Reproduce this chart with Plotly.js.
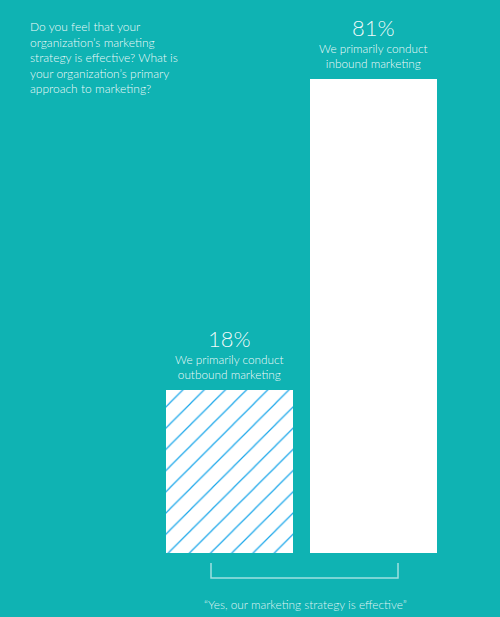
<!DOCTYPE html>
<html>
<head>
<meta charset="utf-8">
<script src="https://cdn.plot.ly/plotly-3.0.1.min.js"></script>
<style>
  html, body { margin: 0; padding: 0; background: #0fb3b3; }
  #chart { width: 500px; height: 617px; }
</style>
</head>
<body>
<div id="chart"></div>
<script>
/* ── Data ──────────────────────────────────────────────────────────────── */
const categories = ['Outbound', 'Inbound'];
const percents = [18, 81];
const approachLabels = [
  'We primarily conduct<br>outbound marketing',
  'We primarily conduct<br>inbound marketing',
];
const questionLines = [
  'Do you feel that your',
  'organization\u2019s marketing',
  'strategy is effective? What is',
  'your organization\u2019s primary',
  'approach to marketing?',
];
const footnoteText = '\u201CYes, our marketing strategy is effective\u201D';

/* ── Style ─────────────────────────────────────────────────────────────── */
const BG = '#0fb3b3';
const TEXT = 'rgba(255,255,255,0.95)';
const FONT = 'Lato, "Open Sans", sans-serif';
const BAR_FLOOR = -15; // bars sit below the zero line in the original artwork

const chartEl = document.getElementById('chart');

const traces = [{
  type: 'bar',
  x: categories,
  y: percents.map(v => v - BAR_FLOOR),
  base: BAR_FLOOR,
  width: 0.882,
  marker: {
    color: '#ffffff',
    line: { width: 0 },
    pattern: {
      shape: ['/', ''],
      bgcolor: '#ffffff',
      fgcolor: '#1aa7ea',
      fgopacity: 1,
      size: 15,
      solidity: 0.08,
      fillmode: 'overlay',
    },
  },
  hoverinfo: 'skip',
  showlegend: false,
}];

// Percent + label annotations above each bar
const annotations = [];
categories.forEach((c, i) => {
  annotations.push({
    x: c, y: percents[i], xref: 'x', yref: 'y',
    yanchor: 'bottom', yshift: 36,
    text: percents[i] + '%',
    showarrow: false,
    font: { family: FONT, size: 22, color: TEXT, weight: 300 },
  });
  annotations.push({
    x: c, y: percents[i], xref: 'x', yref: 'y',
    yanchor: 'bottom', yshift: 6,
    text: approachLabels[i],
    showarrow: false,
    font: { family: FONT, size: 11.8, color: TEXT, weight: 300 },
  });
});

// Question block, top-left
annotations.push({
  xref: 'paper', yref: 'paper', x: 28 / 500, y: 1 - 17 / 617,
  xanchor: 'left', yanchor: 'top', align: 'left',
  text: questionLines.join('<br>'),
  showarrow: false,
  font: { family: FONT, size: 12, color: TEXT, weight: 300 },
});

// Footnote under the bracket
annotations.push({
  xref: 'paper', yref: 'paper', x: 305 / 500, y: 1 - 604 / 617,
  xanchor: 'center', yanchor: 'middle',
  text: footnoteText,
  showarrow: false,
  font: { family: FONT, size: 11.8, color: 'rgba(255,255,255,0.88)', weight: 300 },
});

const layout = {
  width: 500,
  height: 617,
  paper_bgcolor: BG,
  plot_bgcolor: BG,
  margin: { l: 0, r: 0, t: 0, b: 0 },
  xaxis: {
    type: 'category',
    range: [-229.5 / 144, (500 - 229.5) / 144],
    visible: false,
    fixedrange: true,
  },
  yaxis: {
    range: [-28.06, 97.04],
    visible: false,
    fixedrange: true,
  },
  bargap: 0,
  annotations: annotations,
  shapes: [{
    type: 'path',
    xref: 'paper', yref: 'paper',
    path: 'M 0.422 0.0875 L 0.422 0.0632 L 0.796 0.0632 L 0.796 0.0875',
    line: { color: 'rgba(255,255,255,0.6)', width: 1.5 },
  }],
};

Plotly.newPlot(chartEl, traces, layout, { displayModeBar: false, staticPlot: true });
</script>
</body>
</html>
